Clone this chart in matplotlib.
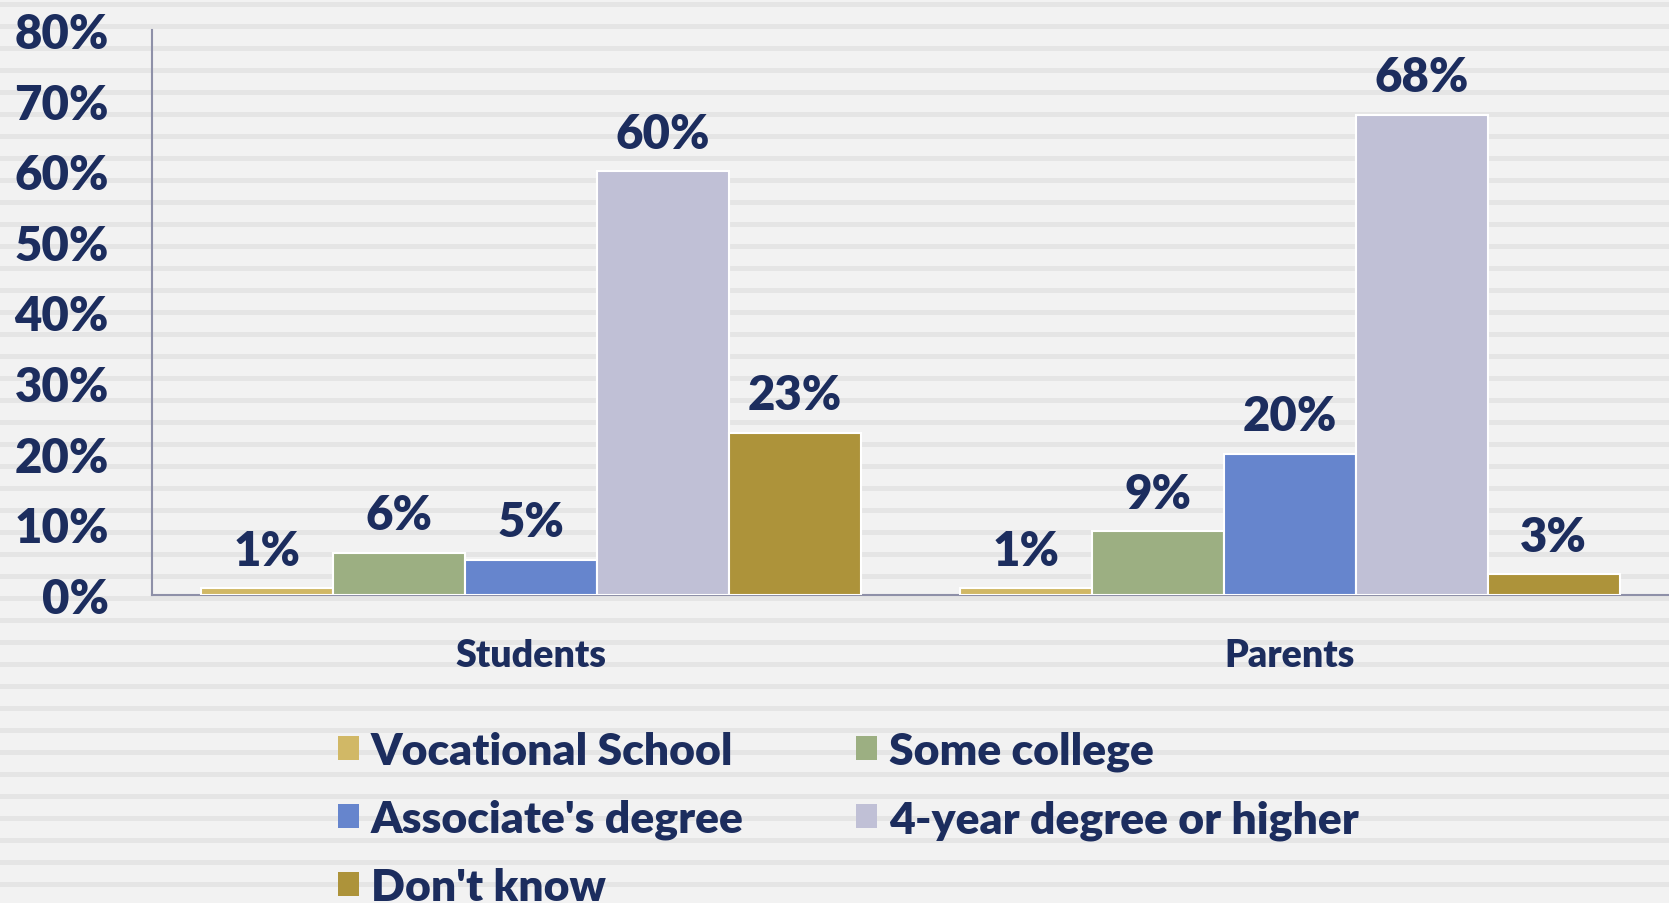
import numpy as np
import matplotlib.pyplot as plt
from matplotlib.patches import Patch

# data (percent)
groups = ['Students', 'Parents']
series = ['Vocational School', 'Some college', "Associate's degree",
          '4-year degree or higher', "Don't know"]
vocational = [1, 1]
some_college = [6, 9]
associate = [5, 20]
four_year = [60, 68]
dont_know = [23, 3]
yticks = [0, 10, 20, 30, 40, 50, 60, 70, 80]

colors = ['#D1B866', '#9CAF82', '#6685CD', '#C0C0D6', '#AD933A']
navy = '#1C2D5E'

plt.rcParams['font.family'] = ['Lato', 'DejaVu Sans']
plt.rcParams['font.weight'] = 'heavy'

W, H = 1669, 904
fig = plt.figure(figsize=(W / 100, H / 100), dpi=100)
fig.patch.set_facecolor('#F2F2F2')

# striped background
bg = fig.add_axes([0, 0, 1, 1], zorder=-1)
bg.set_xlim(0, W)
bg.set_ylim(H, 0)
bg.axis('off')
for y0 in np.arange(3, H, 22):
    bg.axhspan(y0, y0 + 4.5, color='#E5E5E5', lw=0)

ax = fig.add_axes([152 / W, 308 / H, 1 - 152 / W, 565 / H])
ax.patch.set_alpha(0)

values = [vocational, some_college, associate, four_year, dont_know]
x = np.arange(len(groups))
width = 0.174
for i, (vals, col) in enumerate(zip(values, colors)):
    pos = x + (i - 2) * width
    bars = ax.bar(pos, vals, width, color=col, edgecolor='white', linewidth=1.5, zorder=3)
    for b, v in zip(bars, vals):
        ax.annotate(f'{v}%', (b.get_x() + b.get_width() / 2, v),
                    xytext=(0, 11), textcoords='offset points',
                    ha='center', va='bottom', fontsize=34, color=navy)

ax.set_xlim(-0.5, 1.5)
ax.set_ylim(0, 80)
ax.set_yticks(yticks)
ax.set_yticklabels([f'{t}%' for t in yticks])
ax.set_xticks(x)
ax.set_xticklabels(groups)
ax.tick_params(axis='y', length=0, pad=31, labelsize=34, labelcolor=navy)
ax.tick_params(axis='x', length=0, pad=31, labelsize=27, labelcolor=navy)
for s in ['top', 'right']:
    ax.spines[s].set_visible(False)
for s in ['left', 'bottom']:
    ax.spines[s].set_color('#8E90A8')
    ax.spines[s].set_linewidth(1.5)

handles = [Patch(facecolor=c, edgecolor='none') for c in colors]
order = [0, 2, 4, 1, 3]
fig.legend([handles[i] for i in order], [series[i] for i in order],
           loc='upper left', bbox_to_anchor=(338 / W, 1 - 732 / H), ncol=2,
           frameon=False, fontsize=32, labelcolor=navy,
           handlelength=0.47, handleheight=0.47, handletextpad=0.27,
           columnspacing=2.53, labelspacing=0.62, borderpad=0, borderaxespad=0)

fig.savefig('out.png', dpi=100, facecolor=fig.get_facecolor())
